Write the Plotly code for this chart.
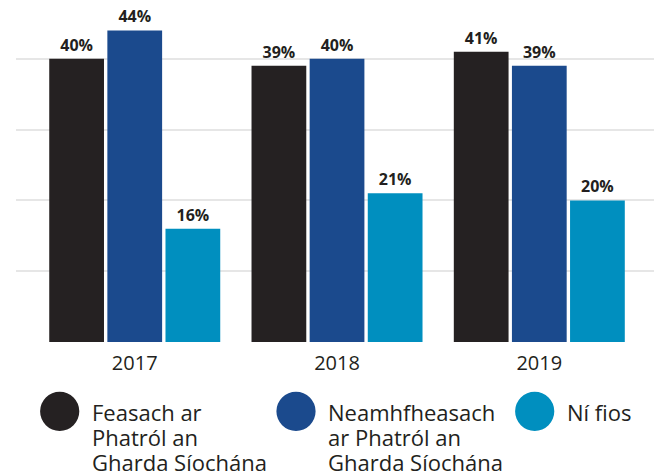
import plotly.graph_objects as go

# Survey years and shares (%) per answer
years = ["2017", "2018", "2019"]
series_names = [
    "Feasach ar Phatról an Gharda Síochána",
    "Neamhfheasach ar Phatról an Gharda Síochána",
    "Ní fios",
]
legend_lines = [
    ["Feasach ar", "Phatról an", "Gharda Síochána"],
    ["Neamhfheasach", "ar Phatról an", "Gharda Síochána"],
    ["Ní fios"],
]
aware = [40, 39, 41]
unaware = [44, 40, 39]
dont_know = [16, 21, 20]
values = [aware, unaware, dont_know]
colors = ["#252122", "#1b4a8d", "#008fbf"]

W, H = 654, 472
L, R, T, B = 16, 0, 0, 130
plot_w, plot_h = W - L - R, H - T - B

def px_x(p):
    return (p - L) / plot_w

def px_y(p):
    return (H - B - p) / plot_h

fig = go.Figure()
for name, vals, col in zip(series_names, values, colors):
    fig.add_trace(go.Bar(
        x=years, y=vals, name=name,
        marker=dict(color=col, line=dict(width=0)),
        texttemplate="%{y}%", textposition="outside",
        textfont=dict(family="Open Sans", size=16, color="#231f20", weight="bold"),
        cliponaxis=False, showlegend=False,
    ))

# Legend: round swatches with wrapped labels beneath the axis
swatch_cx = [59.7, 296, 534.7]
swatch_cy = 411.3
swatch_r = 19.6
text_x = [89.5, 325.5, 564.5]
line_gap = 25.2
first_baseline = 420
for cx, tx, col, lines in zip(swatch_cx, text_x, colors, legend_lines):
    fig.add_shape(type="circle", xref="paper", yref="paper",
                  x0=px_x(cx - swatch_r), x1=px_x(cx + swatch_r),
                  y0=px_y(swatch_cy + swatch_r), y1=px_y(swatch_cy - swatch_r),
                  fillcolor=col, line=dict(width=0))
    for i, line in enumerate(lines):
        fig.add_annotation(xref="paper", yref="paper",
                           x=px_x(tx), y=px_y(first_baseline + i * line_gap - 8.5),
                           xanchor="left", yanchor="middle", align="left",
                           text=line, showarrow=False,
                           font=dict(family="Open Sans", size=22, color="#231f20"))

fig.update_layout(
    width=W, height=H,
    margin=dict(l=L, r=R, t=T, b=B),
    paper_bgcolor="white", plot_bgcolor="white",
    barmode="group", bargap=0.138, bargroupgap=0.058,
    showlegend=False,
    font=dict(family="Open Sans", color="#231f20"),
    xaxis=dict(range=[-0.587, 2.567], showgrid=False, zeroline=False,
               showline=False, ticks="", ticklabelstandoff=7,
               tickfont=dict(family="Open Sans", size=20, color="#231f20")),
    yaxis=dict(range=[0, 48.3], tickvals=[0, 10, 20, 30, 40],
               showticklabels=False, showgrid=True, gridcolor="#e6e6e6",
               gridwidth=2, zeroline=False, showline=False, ticks=""),
)

fig.write_html("out.html")
